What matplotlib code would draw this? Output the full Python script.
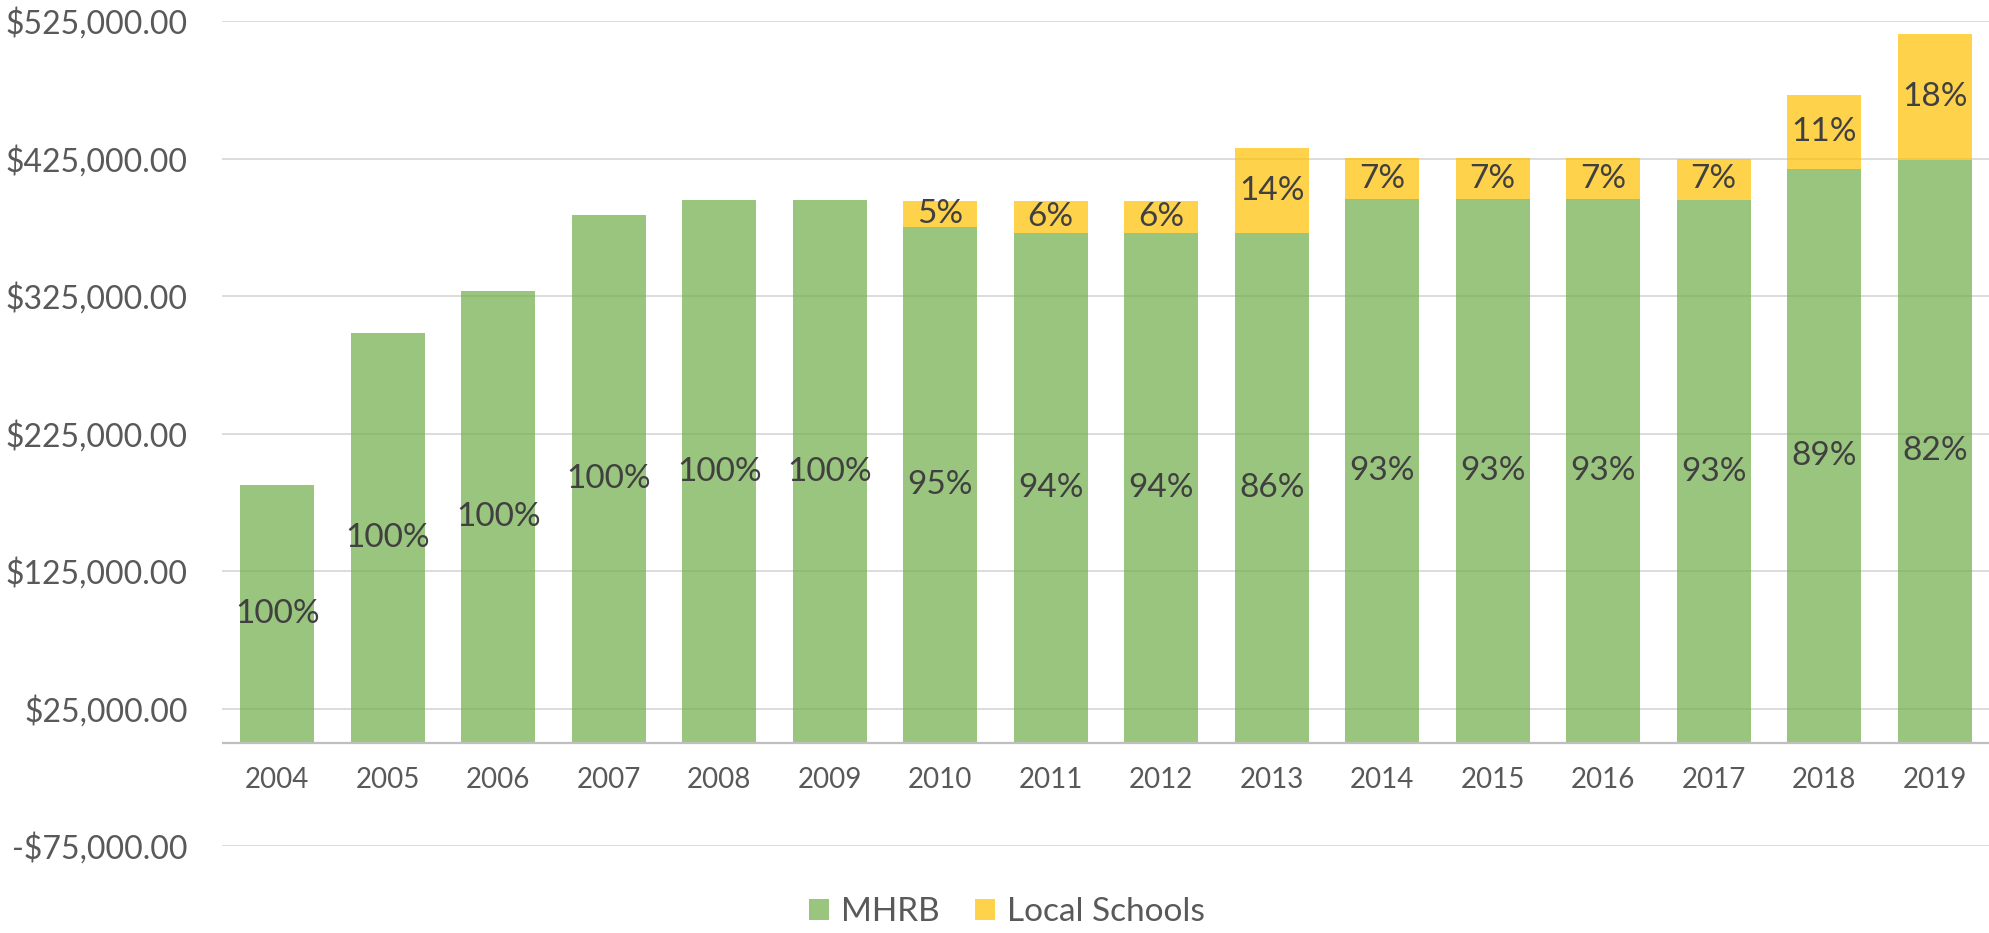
import matplotlib
matplotlib.use("Agg")
import matplotlib.pyplot as plt
import matplotlib.transforms as mtrans
import numpy as np

plt.rcParams['font.family'] = ['Lato', 'DejaVu Sans']

years = ["2004", "2005", "2006", "2007", "2008", "2009", "2010", "2011",
         "2012", "2013", "2014", "2015", "2016", "2017", "2018", "2019"]
mhrb = [187200, 297800, 328300, 383600, 394500, 394500, 375100, 370800,
        370800, 370800, 395700, 395400, 395400, 394500, 417400, 423900]
local_schools = [0, 0, 0, 0, 0, 0, 18700, 23000,
                 23000, 61600, 29400, 29700, 29700, 30500, 53600, 91300]
mhrb_pct = ["100%", "100%", "100%", "100%", "100%", "100%", "95%", "94%",
            "94%", "86%", "93%", "93%", "93%", "93%", "89%", "82%"]
local_pct = ["", "", "", "", "", "", "5%", "6%",
             "6%", "14%", "7%", "7%", "7%", "7%", "11%", "18%"]
yticks = [-75000, 25000, 125000, 225000, 325000, 425000, 525000]

W, H = 1990, 933
fig = plt.figure(figsize=(W / 100, H / 100), dpi=100)
ax = fig.add_axes([222 / W, 87 / H, (W - 222) / W, (846 - 21) / H])

x = np.arange(len(years))
green = "#70AD47"
gold = "#FFC000"
bw = 0.67
b1 = ax.bar(x, mhrb, width=bw, color=green, alpha=0.7, zorder=2, label="MHRB")
b2 = ax.bar(x, local_schools, width=bw, bottom=mhrb, color=gold, alpha=0.7,
            zorder=2, label="Local Schools")

lab_fs = 24
for i in range(len(years)):
    ax.text(x[i], mhrb[i] / 2, mhrb_pct[i], ha="center", va="center",
            fontsize=lab_fs, color="#404040", zorder=4)
    if local_schools[i] > 0:
        ax.text(x[i], mhrb[i] + local_schools[i] / 2, local_pct[i],
                ha="center", va="center", fontsize=lab_fs, color="#404040",
                zorder=4)

ax.set_xlim(-0.5, len(years) - 0.5)
ax.set_ylim(-75000, 525000)
ax.set_yticks(yticks)
ax.set_yticklabels([("-$" if v < 0 else "$") + f"{abs(v):,.2f}" for v in yticks])
ax.set_xticks([])
ax.yaxis.grid(True, color="#D9D9D9", linewidth=1.3, zorder=0)
ax.set_axisbelow(True)
ax.axhline(0, color="#BFBFBF", linewidth=1.6, zorder=3)

for s in ax.spines.values():
    s.set_visible(False)
ax.tick_params(axis="y", length=0, pad=24.5, labelsize=23, labelcolor="#595959")

# category labels sit just below the zero line
xl_tr = ax.transData + mtrans.ScaledTranslation(0, -24 / 100, fig.dpi_scale_trans)
for i, yr in enumerate(years):
    ax.text(x[i], 0, yr, transform=xl_tr, ha="center", va="top",
            fontsize=20, color="#595959")

leg_fs = 24
fig.legend(handles=[b1, b2], labels=["MHRB", "Local Schools"],
           loc="center", bbox_to_anchor=(1007 / W, 1 - 912 / H), ncol=2,
           frameon=False, fontsize=leg_fs, labelcolor="#595959",
           handlelength=0.6, handleheight=0.6, handletextpad=0.36,
           columnspacing=1.05, borderaxespad=0)

fig.savefig("out.png", dpi=100)
